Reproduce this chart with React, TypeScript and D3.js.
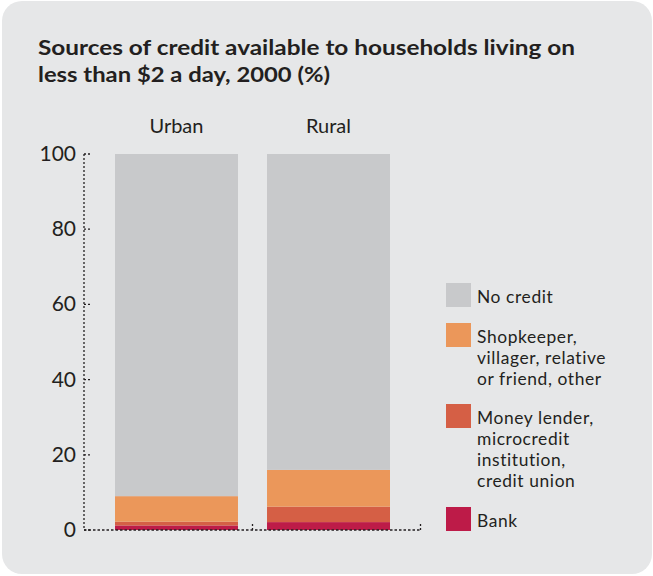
import React from "react";
import * as d3 from "d3";

const categories = ["Urban", "Rural"];
const seriesNames = ["Bank", "Money lender", "Shopkeeper", "No credit"];
const bank = [1.2, 2.1];
const moneyLender = [1.0, 4.1];
const shopkeeper = [6.8, 9.8];
const noCredit = [91.0, 84.0];
const yTicks = [0, 20, 40, 60, 80, 100];
const legendLabels = [
  ["No credit"],
  ["Shopkeeper,", "villager, relative", "or friend, other"],
  ["Money lender,", "microcredit", "institution,", "credit union"],
  ["Bank"],
];
const legendKeys = ["No credit", "Shopkeeper", "Money lender", "Bank"];

const colors: Record<string, string> = {
  "Bank": "#bd1b48",
  "Money lender": "#d55f45",
  "Shopkeeper": "#eb975a",
  "No credit": "#c8c9cb",
};

const FONT = "Lato, 'Open Sans', sans-serif";
const TXT = "#231f20";

export default function App() {
  const W = 653, H = 576;
  const y = d3.scaleLinear().domain([0, 100]).range([530, 154]);
  const x = d3.scaleBand().domain(categories).range([115, 390]).paddingInner(0.191).paddingOuter(0);

  const rows = categories.map((c, i) => ({
    cat: c,
    "Bank": bank[i],
    "Money lender": moneyLender[i],
    "Shopkeeper": shopkeeper[i],
    "No credit": noCredit[i],
  }));
  const stacked = d3.stack<any>().keys(seriesNames)(rows);

  const legendTops = [283, 323, 404, 507];
  const lineH = 21;

  return (
    <svg width={W} height={H} style={{ position: "absolute", left: 0, top: 0 }} fontFamily={FONT}>
      <rect x={0} y={0} width={W} height={H} fill="#ffffff" />
      <rect x={2} y={1} width={650} height={573} rx={20} ry={20} fill="#e6e7e8" />
      <text x={38} y={55} fontSize={21} fontWeight={700} fill={TXT} textLength={537} lengthAdjust="spacingAndGlyphs">
        Sources of credit available to households living on
      </text>
      <text x={38} y={82} fontSize={21} fontWeight={700} fill={TXT} textLength={292} lengthAdjust="spacingAndGlyphs">
        less than $2 a day, 2000 (%)
      </text>

      {stacked.map((s) => (
        <g key={s.key} fill={colors[s.key]}>
          {s.map((d, i) => (
            <rect key={i} x={x(categories[i])} width={x.bandwidth()} y={y(d[1])} height={y(d[0]) - y(d[1])} />
          ))}
        </g>
      ))}

      {categories.map((c) => (
        <text key={c} x={(x(c) as number) + x.bandwidth() / 2} y={133} textAnchor="middle" fontSize={20} fill={TXT}>
          {c}
        </text>
      ))}

      {/* axes */}
      <line x1={84} x2={84} y1={y(100)} y2={y(0)} stroke={TXT} strokeWidth={1.3} strokeDasharray="2,2" />
      <line x1={84} x2={421} y1={y(0)} y2={y(0)} stroke={TXT} strokeWidth={1.3} strokeDasharray="2.5,2" />
      {yTicks.map((t) => (
        <g key={t}>
          <line x1={84} x2={91} y1={y(t)} y2={y(t)} stroke={TXT} strokeWidth={1.3} strokeDasharray="2,2" />
          <text x={76} y={y(t) + 7} textAnchor="end" fontSize={21} fill={TXT}>
            {t}
          </text>
        </g>
      ))}
      {[252.5, 420.5].map((xx) => (
        <line key={xx} x1={xx} x2={xx} y1={y(0)} y2={y(0) - 7} stroke={TXT} strokeWidth={1.3} strokeDasharray="2,2" />
      ))}

      {/* legend */}
      {legendKeys.map((k, i) => (
        <g key={k}>
          <rect x={446} y={legendTops[i]} width={25} height={24} fill={colors[k]} />
          <text x={477} y={legendTops[i] + 20} fontSize={17.4} letterSpacing={0.6} fill={TXT}>
            {legendLabels[i].map((ln, j) => (
              <tspan key={j} x={477} dy={j === 0 ? 0 : lineH}>
                {ln}
              </tspan>
            ))}
          </text>
        </g>
      ))}
    </svg>
  );
}
